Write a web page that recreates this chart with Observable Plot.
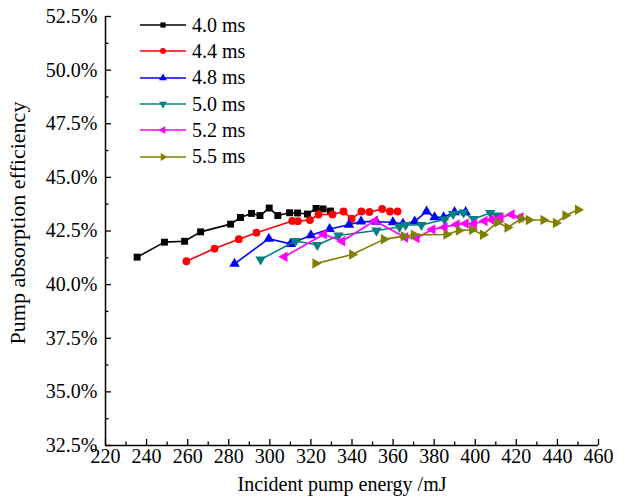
<!DOCTYPE html>
<html><head><meta charset="utf-8">
<script src="https://cdn.jsdelivr.net/npm/d3@7"></script>
<script src="https://cdn.jsdelivr.net/npm/@observablehq/plot@0.6"></script>
<style>
body{margin:0;background:#fff;}
#wrap{position:relative;width:629px;height:504px;font-family:"Liberation Serif","Times New Roman",serif;}
#legend{position:absolute;left:140px;top:12px;}
.row{display:flex;align-items:center;height:26.3px;font-size:20px;color:#000;}
.row svg{margin-right:6px;}
</style></head><body><div id="wrap"></div>
<script>
// ---- data ----
const seriesNames = ["4.0 ms","4.4 ms","4.8 ms","5.0 ms","5.2 ms","5.5 ms"];
const seriesColors = ["#000000","#ff0000","#0000ff","#008080","#ff00ff","#808000"];

const energy40 = [235.4,248.7,258.5,266.3,280.9,285.7,291.1,295.2,299.7,303.9,309.6,313.5,318.3,322.5,325.9,329.5];
const eff40    = [41.28,41.98,42.02,42.46,42.82,43.13,43.32,43.22,43.57,43.22,43.35,43.34,43.29,43.55,43.53,43.43];

const energy44 = [259.4,273.1,284.9,293.5,310.9,313.7,319.5,323.7,330.5,335.9,339.8,344.6,348.5,354.7,358.5,362.2];
const eff44    = [41.09,41.68,42.12,42.42,42.97,42.96,43.01,43.27,43.27,43.41,43.07,43.41,43.39,43.53,43.41,43.41];

const energy48 = [282.8,299.5,310.1,320.0,329.1,338.5,344.4,351.9,359.9,364.8,370.5,376.3,380.2,384.6,389.9,395.3];
const eff48    = [40.97,42.14,41.90,42.30,42.59,42.79,42.94,42.93,42.91,42.84,42.94,43.41,43.14,43.14,43.38,43.38];

const energy50 = [295.5,312.5,323.1,333.4,351.9,363.1,366.1,373.8,385.0,389.2,394.3,399.2,407.3,410.8];
const eff50    = [41.17,42.03,41.85,42.29,42.52,42.69,42.78,42.78,43.04,43.29,43.36,43.06,43.34,43.22];

const energy52 = [307.1,326.3,335.2,351.1,365.8,371.4,379.1,385.0,390.9,395.3,399.3,404.5,407.9,412.3,417.7,422.0];
const eff52    = [41.30,42.35,42.02,42.98,42.20,42.17,42.57,42.68,42.80,42.85,42.84,42.97,43.02,43.13,43.27,43.14];

const energy55 = [322.2,340.1,355.5,365.2,370.1,386.0,392.0,398.5,403.8,410.8,415.7,422.5,426.1,433.2,439.3,443.9,450.0];
const eff55    = [40.98,41.40,42.11,42.26,42.32,42.34,42.52,42.56,42.33,42.91,42.66,43.07,43.01,43.01,42.87,43.22,43.49];

const xMajor = [220,240,260,280,300,320,340,360,380,400,420,440,460];
const xMinor = [230,250,270,290,310,330,350,370,390,410,430,450];
const yMajor = [32.5,35.0,37.5,40.0,42.5,45.0,47.5,50.0,52.5];
const yMinor = [33.75,36.25,38.75,41.25,43.75,46.25,48.75,51.25];

// ---- symbols ----
function tri(rot){
  return {draw(ctx, size){
    const y = -Math.sqrt(size/(Math.sqrt(3)*3));
    const pts = [[0,y*2],[-Math.sqrt(3)*y,-y],[Math.sqrt(3)*y,-y]];
    const c = Math.cos(rot), s = Math.sin(rot);
    pts.forEach(([px,py],i)=>{const X=px*c-py*s, Y=px*s+py*c; i?ctx.lineTo(X,Y):ctx.moveTo(X,Y);});
    ctx.closePath();
  }};
}
const seriesSymbols = [d3.symbolSquare, d3.symbolCircle, tri(0), tri(Math.PI), tri(-Math.PI/2), tri(Math.PI/2)];
const seriesR = [3.9, 3.9, 3.9, 3.9, 3.9, 3.9];

const energies = [energy40,energy44,energy48,energy50,energy52,energy55];
const effs = [eff40,eff44,eff48,eff50,eff52,eff55];

const FONT = '"Liberation Serif","Times New Roman",serif';

const marks = [];
energies.forEach((E,i)=>{
  const data = E.map((e,j)=>({e, v: effs[i][j]}));
  marks.push(Plot.line(data,{x:"e",y:"v",stroke:seriesColors[i],strokeWidth:1.6}));
  marks.push(Plot.dot(data,{x:"e",y:"v",fill:seriesColors[i],stroke:"none",symbol:seriesSymbols[i],r:seriesR[i]}));
});

const fmtY = d => d3.format(".1f")(d) + "%";

const plot = Plot.plot({
  width: 629, height: 504,
  marginLeft: 105, marginRight: 31, marginTop: 16, marginBottom: 59,
  style: {fontFamily: FONT, fontSize: "20px", color: "#000", background: "#fff", overflow: "visible"},
  x: {domain: [220,460]},
  y: {domain: [32.5,52.5]},
  marks: [
    Plot.axisX({ticks: xMajor, tickSize: -6, tickPadding: 9, tickFormat: d=>String(d), label: null, strokeWidth: 1.3, fontFamily: FONT, fontSize: 20}),
    Plot.axisX({ticks: xMinor, tickSize: -3.5, text: null, label: null, strokeWidth: 1.3}),
    Plot.axisY({ticks: yMajor, tickSize: -6, tickPadding: 14, tickFormat: fmtY, label: null, strokeWidth: 1.3, fontFamily: FONT, fontSize: 20}),
    Plot.axisY({ticks: yMinor, tickSize: -3.5, text: null, label: null, strokeWidth: 1.3}),
    Plot.ruleY([32.5], {stroke: "#000", strokeWidth: 1.5}),
    Plot.ruleX([220], {stroke: "#000", strokeWidth: 1.5}),
    ...marks,
    Plot.text(["Incident pump energy /mJ"], {frameAnchor: "bottom", dy: 39, dx: -10, fontSize: 20, fontFamily: FONT, textAnchor: "middle", lineAnchor: "middle"}),
    Plot.text(["Pump absorption efficiency"], {frameAnchor: "left", dx: -88, dy: -8, rotate: -90, fontSize: 22, fontFamily: FONT, textAnchor: "middle", lineAnchor: "middle"})
  ]
});

const wrap = document.getElementById("wrap");
wrap.appendChild(plot);

// ---- legend ----
const legend = document.createElement("div");
legend.id = "legend";
seriesNames.forEach((name,i)=>{
  const row = document.createElement("div");
  row.className = "row";
  const sym = d3.symbol(seriesSymbols[i], seriesR[i]*seriesR[i]*Math.PI)();
  row.innerHTML = `<svg width="46" height="20"><line x1="0" x2="46" y1="10" y2="10" stroke="${seriesColors[i]}" stroke-width="1.6"/><path d="${sym}" transform="translate(23,10) scale(0.75)" fill="${seriesColors[i]}"/></svg><span>${name}</span>`;
  legend.appendChild(row);
});
wrap.appendChild(legend);
</script>
</body></html>
